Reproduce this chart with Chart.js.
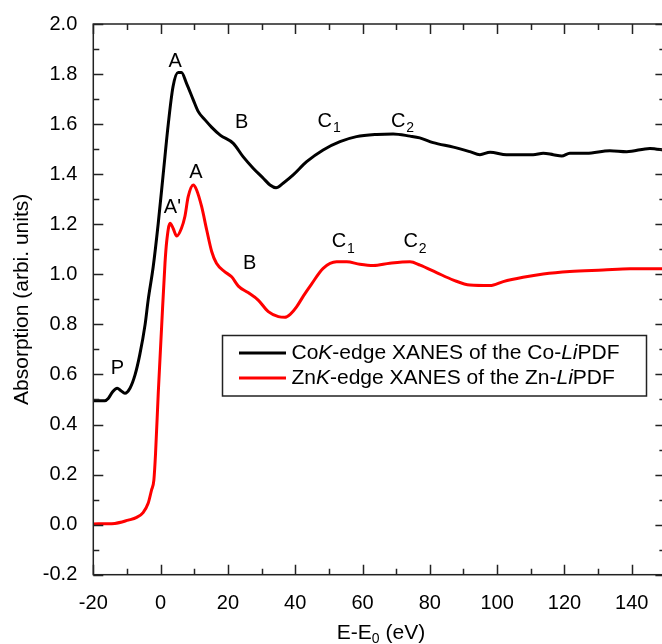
<!DOCTYPE html>
<html>
<head>
<meta charset="utf-8">
<script src="https://cdn.jsdelivr.net/npm/chart.js@4/dist/chart.umd.min.js"></script>
<style>
  html, body { margin: 0; padding: 0; background: #fff; overflow: hidden; }
  #wrap { width: 672px; height: 644px; }
</style>
</head>
<body>
<div id="wrap"><canvas id="xanes" width="672" height="644"></canvas></div>
<script>
// Co K-edge (black)
const coE = [-20, -18, -16.6, -15.5, -14.3, -12.9, -11.8, -10.6, -9.1, -7.6, -6.2, -4.6, -3.7, -2.2, -0.7, 0.8, 2.3, 3.7, 5.2, 6.2, 7.7, 9.7, 11.2, 13.2, 15.2, 17.7, 21.6, 24.5, 27.5, 30.5, 32.5, 34.3, 36.4, 39.4, 43.4, 48.3, 53.3, 58.2, 64.2, 69.1, 74.1, 77, 81, 87, 91.9, 94.9, 97.9, 102.8, 110.7, 113.7, 116.7, 119.2, 121.6, 126.6, 133.5, 138.5, 145.4, 150]
const coMu = [0.495, 0.495, 0.495, 0.505, 0.53, 0.545, 0.535, 0.525, 0.545, 0.598, 0.678, 0.80, 0.897, 1.03, 1.204, 1.404, 1.603, 1.75, 1.806, 1.806, 1.763, 1.697, 1.65, 1.617, 1.587, 1.556, 1.523, 1.47, 1.424, 1.384, 1.357, 1.346, 1.364, 1.397, 1.45, 1.497, 1.53, 1.55, 1.559, 1.561, 1.552, 1.545, 1.526, 1.508, 1.49, 1.478, 1.488, 1.478, 1.478, 1.484, 1.478, 1.473, 1.484, 1.484, 1.494, 1.49, 1.503, 1.495]

// Zn K-edge (red)
const znE = [-20, -13.6, -9.6, -7.1, -5.2, -3.7, -2.7, -2.0, -1.5, -0.7, 0.3, 1.3, 1.8, 2.8, 3.7, 4.8, 6.2, 7.2, 8.2, 9.7, 10.7, 12.2, 13.7, 15.2, 16.6, 19.1, 21.1, 23.1, 26.0, 29.0, 32.0, 35.0, 36.9, 38.5, 40.4, 42.5, 44.8, 48.3, 52.3, 55.3, 59.2, 63.2, 68.1, 74.1, 77.1, 82.0, 87.0, 91.9, 97.9, 101.8, 107.7, 113.7, 121.6, 131.5, 139.5, 150]
const znMu = [0.003, 0.005, 0.018, 0.029, 0.048, 0.085, 0.138, 0.178, 0.285, 0.525, 0.79, 1.044, 1.13, 1.204, 1.184, 1.153, 1.184, 1.23, 1.31, 1.357, 1.337, 1.27, 1.177, 1.09, 1.044, 1.01, 0.99, 0.953, 0.927, 0.897, 0.851, 0.831, 0.828, 0.84, 0.87, 0.915, 0.96, 1.024, 1.05, 1.05, 1.04, 1.035, 1.044, 1.05, 1.037, 1.007, 0.977, 0.957, 0.955, 0.971, 0.988, 1.001, 1.011, 1.017, 1.022, 1.022]

// peak labels (text, subscript, x, y)
const peakText = ['P', 'A', 'B', 'C', 'C', "A'", 'A', 'B', 'C', 'C']
const peakSub = ['', '', '', '1', '2', '', '', '', '1', '2']
const peakX = [-12.8, 4.3, 24.1, 48.8, 70.6, 3.5, 10.5, 26.5, 53.0, 74.3]
const peakY = [0.625, 1.849, 1.607, 1.61, 1.61, 1.267, 1.407, 1.044, 1.13, 1.13]

const legendRows = [
  [['Co', false], ['K', true], ['-edge XANES of the Co-', false], ['Li', true], ['PDF', false]],
  [['Zn', false], ['K', true], ['-edge XANES of the Zn-', false], ['Li', true], ['PDF', false]]
]
const lineColors = ['#000000', '#ff0000']

const FONT = '"Liberation Sans", Arial, sans-serif'

function pts(xs, ys) {
  return xs.map((v, i) => ({x: v, y: ys[i]}))
}

const decor = {
  id: 'decor',
  afterDatasetsDraw(chart) {
    const ctx = chart.ctx
    const a = chart.chartArea
    const sx = chart.scales.x
    const sy = chart.scales.y
    ctx.save()

    // frame + inward ticks on all four sides
    ctx.strokeStyle = '#222'
    ctx.lineWidth = 1.5
    ctx.strokeRect(a.left, a.top, a.right - a.left, a.bottom - a.top)
    ctx.beginPath()
    for (let v = -20; v <= 150; v += 10) {
      const px = Math.round(sx.getPixelForValue(v)) + 0.5
      const len = v % 20 === 0 ? 10 : 6
      ctx.moveTo(px, a.bottom); ctx.lineTo(px, a.bottom - len)
      ctx.moveTo(px, a.top); ctx.lineTo(px, a.top + len)
    }
    for (let i = -2; i <= 20; i++) {
      const py = Math.round(sy.getPixelForValue(i / 10)) + 0.5
      const len = i % 2 === 0 ? 10 : 6
      ctx.moveTo(a.left, py); ctx.lineTo(a.left + len, py)
      ctx.moveTo(a.right, py); ctx.lineTo(a.right - len, py)
    }
    ctx.stroke()

    // peak labels
    ctx.textAlign = 'center'
    ctx.textBaseline = 'middle'
    ctx.fillStyle = '#000'
    peakText.forEach((t, i) => {
      const px = sx.getPixelForValue(peakX[i])
      const py = sy.getPixelForValue(peakY[i])
      ctx.font = '20px ' + FONT
      ctx.fillText(t, px, py)
      if (peakSub[i]) {
        ctx.font = '14px ' + FONT
        ctx.fillText(peakSub[i], px + 12, py + 7)
      }
    })

    // axis titles
    ctx.font = '21px ' + FONT
    ctx.save()
    ctx.translate(22, (a.top + a.bottom) / 2)
    ctx.rotate(-Math.PI / 2)
    ctx.fillText('Absorption (arbi. units)', 0, 0)
    ctx.restore()

    const cx = 381, cy = 633
    ctx.textAlign = 'left'
    const w1 = ctx.measureText('E-E').width
    ctx.font = '14px ' + FONT
    const w2 = ctx.measureText('0').width
    ctx.font = '21px ' + FONT
    const w3 = ctx.measureText(' (eV)').width
    let x0 = cx - (w1 + w2 + w3) / 2
    ctx.fillText('E-E', x0, cy)
    ctx.font = '14px ' + FONT
    ctx.fillText('0', x0 + w1, cy + 6)
    ctx.font = '21px ' + FONT
    ctx.fillText(' (eV)', x0 + w1 + w2, cy)

    // legend
    ctx.strokeStyle = '#222'
    ctx.lineWidth = 1.5
    ctx.fillStyle = '#fff'
    ctx.fillRect(222.5, 335.5, 424, 60.5)
    ctx.strokeRect(222.5, 335.5, 424, 60.5)
    const rowY = [353, 378]
    legendRows.forEach((row, r) => {
      ctx.strokeStyle = lineColors[r]
      ctx.lineWidth = 3
      ctx.beginPath()
      ctx.moveTo(239, rowY[r]); ctx.lineTo(286, rowY[r])
      ctx.stroke()
      ctx.fillStyle = '#000'
      let tx = 291.5
      row.forEach(seg => {
        ctx.font = (seg[1] ? 'italic ' : '') + '21px ' + FONT
        ctx.fillText(seg[0], tx, rowY[r])
        tx += ctx.measureText(seg[0]).width
      })
    })
    ctx.restore()
  }
}

const chart = new Chart(document.getElementById('xanes'), {
  type: 'line',
  data: {
    datasets: [{
      label: 'Co',
      data: pts(coE, coMu),
      borderColor: lineColors[0],
      borderWidth: 3,
      pointRadius: 0,
      cubicInterpolationMode: 'monotone'
    }, {
      label: 'Zn',
      data: pts(znE, znMu),
      borderColor: lineColors[1],
      borderWidth: 3,
      pointRadius: 0,
      cubicInterpolationMode: 'monotone'
    }]
  },
  options: {
    responsive: false,
    animation: false,
    devicePixelRatio: 1,
    layout: { padding: { left: 0, top: 24, right: 6.6, bottom: 0 } },
    plugins: { legend: { display: false }, tooltip: { enabled: false } },
    scales: {
      x: {
        type: 'linear',
        min: -20,
        max: 150,
        grid: { display: false, drawTicks: false },
        border: { display: false },
        ticks: {
          stepSize: 20,
          includeBounds: false,
          padding: 17,
          maxRotation: 0,
          color: '#000',
          font: { family: FONT, size: 20 }
        },
        afterFit(s) { s.height = 69.3 }
      },
      y: {
        min: -0.2,
        max: 2.0,
        grid: { display: false, drawTicks: false },
        border: { display: false },
        ticks: {
          stepSize: 0.2,
          padding: 16,
          color: '#000',
          font: { family: FONT, size: 20 },
          callback: v => v.toFixed(1)
        },
        afterFit(s) { s.width = 93.3; s.paddingTop = 0; s.paddingBottom = 0 }
      }
    }
  },
  plugins: [decor]
})
</script>
</body>
</html>
